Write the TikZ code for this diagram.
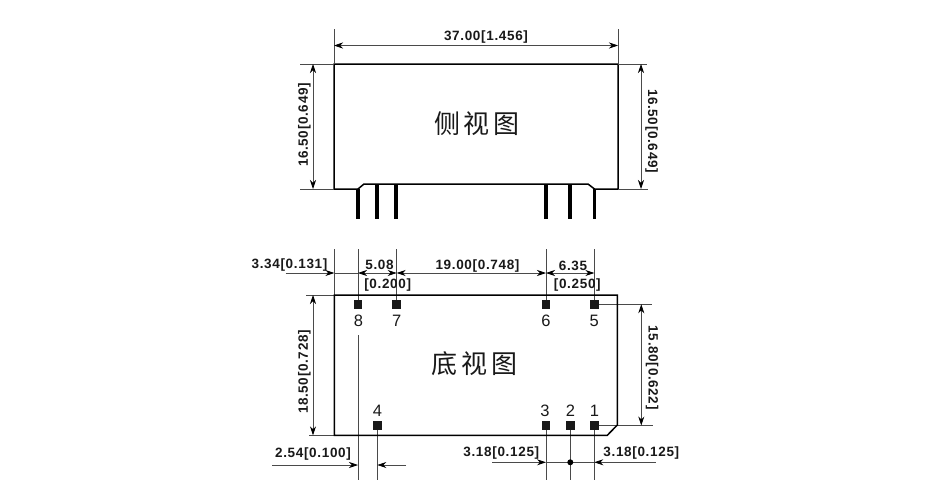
\documentclass[tikz,border=0pt]{standalone}
\usepackage{fontspec}
\setmainfont{Liberation Sans}
\newfontfamily\cjk{Noto Sans CJK SC}
\usetikzlibrary{arrows.meta}
\definecolor{dimgray}{HTML}{4A4A4A}
\tikzset{
    body/.style={line width=1.5pt, black},
    pin/.style={line width=3.2pt, black},
    ext/.style={line width=0.75pt, dimgray},
    dim/.style={line width=0.75pt, dimgray, {Stealth[length=9pt,width=6pt,black]}-{Stealth[length=9pt,width=6pt,black]}},
    lead/.style={line width=0.75pt, dimgray, -{Stealth[length=9pt,width=6pt,black]}},
    lbl/.style={inner sep=0pt, font=\fontsize{13.5}{14}\selectfont\bfseries\addfontfeature{LetterSpace=5}, text=black!90},
    num/.style={inner sep=0pt, font=\fontsize{16.5}{18}\selectfont, text=black!90},
    title/.style={inner sep=0pt, font=\fontsize{26}{28}\selectfont\cjk, text=black!90},
    pad/.style={fill=black!90, inner sep=0pt, minimum size=8.5pt}
}
\begin{document}
\begin{tikzpicture}[x=1pt,y=-1pt]
    \useasboundingbox[fill=white] (0,0) rectangle (930,490);
    % side view
    \coordinate (A) at (334,64);
    \coordinate (B) at (618,64);
    \coordinate (C) at (618,189);
    \coordinate (D) at (334,189);
    \coordinate (N1) at (358,189);
    \coordinate (N2) at (364,184);
    \coordinate (N3) at (588,184);
    \coordinate (N4) at (594.5,189);

    \draw[body] (A)-- (B)-- (C)-- (N4)-- (N3)-- (N2)-- (N1)-- (D)-- cycle;
    \draw[pin] (N1)-- (358,219);
    \draw[pin] (377,184)-- (377,218.5);
    \draw[pin] (396,184)-- (396,218.5);
    \draw[pin] (546,184)-- (546,218.5);
    \draw[pin] (570,184)-- (570,218.5);
    \draw[pin] (N4)-- (594.5,219);

    \coordinate (TL) at (334,29);
    \coordinate (TR) at (618,29);
    \coordinate (TDL) at (334,45.5);
    \coordinate (TDR) at (618,45.5);
    \draw[ext] (TL)-- (A);
    \draw[ext] (TR)-- (B);
    \draw[dim] (TDL)-- (TDR);
    \node[lbl] (top) at (486,37) {37.00[1.456]};

    \draw[ext] (300,64)-- (A);
    \draw[ext] (300,189)-- (D);
    \draw[ext] (B)-- (647,64);
    \draw[ext] (C)-- (648,189);
    \coordinate (LT) at (313,64);
    \coordinate (LB) at (313,189);
    \coordinate (RT) at (641,64);
    \coordinate (RB) at (641,189);
    \draw[dim] (LT)-- (LB);
    \draw[dim] (RT)-- (RB);
    \node[lbl, rotate=90] (sl) at (304.5,125) {16.50[0.649]};
    \node[lbl, rotate=-90] (sr) at (651.5,131) {16.50[0.649]};
    \node[title] (side) at (477,124) {侧\kern3.5pt 视\kern3.5pt 图};

    % bottom view
    \coordinate (E) at (334.3,295);
    \coordinate (F) at (617.3,295);
    \coordinate (G) at (617.3,425);
    \coordinate (H) at (607.3,435.3);
    \coordinate (I) at (334.3,435.3);
    \coordinate (X0) at (334.3,249);
    \coordinate (X8) at (358,249);
    \coordinate (X7) at (396.7,249);
    \coordinate (X6) at (546,249);
    \coordinate (X5) at (594.3,249);
    \coordinate (Y0) at (334.3,273);
    \coordinate (Y8) at (358,273);
    \coordinate (Y7) at (396.7,273);
    \coordinate (Y6) at (546,273);
    \coordinate (Y5) at (594.3,273);
    \coordinate (M8) at (358,335);

    \draw[ext] (X0)-- (E);
    \draw[ext] (X8)-- (358,304.3);
    \draw[ext] (M8)-- (358,480);
    \draw[ext] (X7)-- (396.7,304.3);
    \draw[ext] (X6)-- (546,304.3);
    \draw[ext] (X5)-- (594.3,304.3);
    \draw[ext] (377.3,425.3)-- (377.3,480);
    \draw[ext] (546,425.3)-- (546,480);
    \draw[ext] (570.3,425.3)-- (570.3,480);
    \draw[ext] (594.3,425.3)-- (594.3,480);
    \draw[ext] (594.3,304.3)-- (651.7,304.3);
    \draw[ext] (594.3,425.5)-- (653,425.5);
    \draw[ext] (306,295)-- (E);
    \draw[ext] (309,435.3)-- (I);

    \draw[body] (E)-- (F)-- (G)-- (H)-- (I)-- cycle;

    \foreach \i/\x/\y in {1/594.3/425.3,2/570.3/425.3,3/546/425.3,4/377.3/425.3,5/594.3/304.3,6/546/304.3,7/396.7/304.3,8/358/304.3}
        \node[pad] (P\i) at (\x,\y) {};

    \node[num] (n8) at (358.5,320.5) {8};
    \node[num] (n7) at (396.7,320.5) {7};
    \node[num] (n6) at (546,320.5) {6};
    \node[num] (n5) at (594.3,320.5) {5};
    \node[num] (n4) at (377.5,411) {4};
    \node[num] (n3) at (545,411) {3};
    \node[num] (n2) at (570.5,411) {2};
    \node[num] (n1) at (594.5,411) {1};

    \draw[lead] (285.7,273)-- (Y0);
    \draw[ext] (Y0)-- (Y8);
    \draw[dim] (Y8)-- (Y7);
    \draw[dim] (Y7)-- (Y6);
    \draw[dim] (Y6)-- (Y5);
    \node[lbl] (a) at (289.5,265.5) {3.34[0.131]};
    \node[lbl] (b) at (379.5,264.5) {5.08};
    \node[lbl] (c) at (387.7,285.5) {[0.200]};
    \node[lbl] (d) at (477.5,266) {19.00[0.748]};
    \node[lbl] (e) at (573,265.5) {6.35};
    \node[lbl] (f) at (577.3,285.5) {[0.250]};

    \coordinate (BT) at (313,295);
    \coordinate (BB) at (313,435.3);
    \coordinate (CT) at (641.3,304.3);
    \coordinate (CB) at (641.3,425.5);
    \draw[dim] (BT)-- (BB);
    \draw[dim] (CT)-- (CB);
    \node[lbl, rotate=90] (g) at (304.5,372) {18.50[0.728]};
    \node[lbl, rotate=-90] (h) at (652.2,367.7) {15.80[0.622]};
    \node[title] (under) at (474.5,364) {底\kern4pt 视\kern4pt 图};

    % lower dimensions
    \draw[lead] (272,465)-- (358,465);
    \draw[lead] (406,465)-- (377.3,465);
    \draw[lead] (492,462.3)-- (546,462.3);
    \draw[ext] (546,462.3)-- (594.3,462.3);
    \draw[lead] (655.7,462.3)-- (594.3,462.3);
    \fill[black] (570.3,462.3) circle (3pt);
    \node[lbl] (i) at (313,454.5) {2.54[0.100]};
    \node[lbl] (j) at (501.3,453.5) {3.18[0.125]};
    \node[lbl] (k) at (641.3,453.5) {3.18[0.125]};
\end{tikzpicture}
\end{document}
